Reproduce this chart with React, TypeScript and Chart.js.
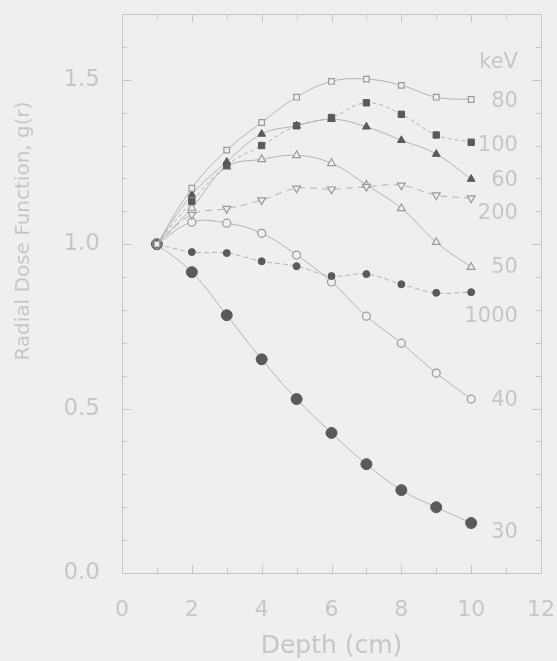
import React, { useEffect, useRef } from "react";
import { Chart, registerables } from "chart.js";

Chart.register(...registerables);

// Depth along the transverse axis (cm)
const depth = [1, 2, 3, 4, 5, 6, 7, 8, 9, 10];

// Radial dose function g(r) for each photon energy
const g80 = [1.0, 1.17, 1.286, 1.37, 1.447, 1.495, 1.502, 1.483, 1.447, 1.44];
const g100 = [1.0, 1.13, 1.24, 1.3, 1.36, 1.385, 1.43, 1.395, 1.332, 1.31];
const g60 = [1.0, 1.15, 1.25, 1.335, 1.36, 1.38, 1.357, 1.316, 1.274, 1.198];
const g200 = [1.0, 1.09, 1.108, 1.134, 1.17, 1.167, 1.175, 1.179, 1.149, 1.14];
const g50 = [1.0, 1.11, 1.235, 1.258, 1.27, 1.246, 1.18, 1.109, 1.006, 0.93];
const g1000 = [1.0, 0.976, 0.973, 0.948, 0.933, 0.903, 0.909, 0.878, 0.852, 0.854];
const g40 = [1.0, 1.067, 1.064, 1.033, 0.967, 0.885, 0.781, 0.699, 0.608, 0.529];
const g30 = [1.0, 0.915, 0.784, 0.65, 0.529, 0.426, 0.331, 0.252, 0.2, 0.152];

// Energy annotations at the right edge of the plot
const energyHeader = "keV";
const energyHeaderLevel = 1.553;
const energyLabels = ["80", "100", "60", "200", "50", "1000", "40", "30"];
const energyLabelLevels = [1.435, 1.3, 1.195, 1.094, 0.93, 0.781, 0.523, 0.122];
const energyLabelDepth = 11.34;

// Axis ticks
const xTickValues = [0, 2, 4, 6, 8, 10, 12];
const yTickValues = [0, 0.5, 1.0, 1.5];
const xMinorTicks = [1, 2, 3, 4, 5, 6, 7, 8, 9, 10, 11];
const yMinorTicks = [0.1, 0.2, 0.3, 0.4, 0.5, 0.6, 0.7, 0.8, 0.9, 1.0, 1.1, 1.2, 1.3, 1.4, 1.5, 1.6];

const yTitle = "Radial Dose Function, g(r)";
const xTitle = "Depth (cm)";

const BG = "#efefef";
const TEXT = "#c6c6c6";
const AXIS = "#c6c6c6";
const LINE = "#b2b2b2";
const DARK = "#5a5a5a";
const OPEN = "#9a9a9a";
const FONT = "'DejaVu Sans', sans-serif";

const toPoints = (vals: number[]) => depth.map((d, i) => ({ x: d, y: vals[i] }));

const zeroPadding = (s: any) => {
  s.paddingTop = 0;
  s.paddingBottom = 0;
  s.paddingLeft = 0;
  s.paddingRight = 0;
};

const frameAndLabels = {
  id: "frameAndLabels",
  afterDraw(chart: any) {
    const { ctx, chartArea } = chart;
    const { left, right, top, bottom } = chartArea;
    const xs = chart.scales.x;
    const ys = chart.scales.y;
    ctx.save();
    ctx.strokeStyle = AXIS;
    ctx.lineWidth = 1;
    ctx.strokeRect(left + 0.5, top + 0.5, right - left, bottom - top);
    ctx.beginPath();
    xMinorTicks.forEach((v) => {
      const px = Math.round(xs.getPixelForValue(v)) + 0.5;
      const len = v % 2 === 0 ? 8 : 5;
      ctx.moveTo(px, bottom);
      ctx.lineTo(px, bottom - len);
      ctx.moveTo(px, top);
      ctx.lineTo(px, top + len);
    });
    yMinorTicks.forEach((v) => {
      const py = Math.round(ys.getPixelForValue(v)) + 0.5;
      const len = Math.abs((v * 10) % 5) < 0.01 ? 9 : 5;
      ctx.moveTo(left, py);
      ctx.lineTo(left + len, py);
      ctx.moveTo(right, py);
      ctx.lineTo(right - len, py);
    });
    ctx.stroke();

    // energy labels
    ctx.fillStyle = TEXT;
    ctx.font = `21px ${FONT}`;
    ctx.textAlign = "right";
    ctx.textBaseline = "middle";
    const lx = xs.getPixelForValue(energyLabelDepth);
    ctx.fillText(energyHeader, lx, ys.getPixelForValue(energyHeaderLevel));
    energyLabels.forEach((t, i) => {
      ctx.fillText(t, lx, ys.getPixelForValue(energyLabelLevels[i]));
    });

    // vertical axis title
    ctx.font = `20px ${FONT}`;
    ctx.textAlign = "center";
    ctx.translate(24, ys.getPixelForValue(1.04));
    ctx.rotate(-Math.PI / 2);
    ctx.fillText(yTitle, 0, 0);
    ctx.restore();
  },
};

export default function App() {
  const ref = useRef<HTMLCanvasElement | null>(null);

  useEffect(() => {
    if (!ref.current) return;
    const line = { borderColor: LINE, borderWidth: 1, tension: 0.4, fill: false };
    const chart = new Chart(ref.current, {
      type: "line",
      data: {
        datasets: [
          {
            ...line,
            label: "80",
            data: toPoints(g80),
            pointStyle: "rect",
            pointRadius: 4,
            pointBackgroundColor: BG,
            pointBorderColor: OPEN,
            pointBorderWidth: 1.2,
          },
          {
            ...line,
            label: "100",
            data: toPoints(g100),
            borderDash: [4, 3],
            pointStyle: "rect",
            pointRadius: 4.5,
            pointBackgroundColor: DARK,
            pointBorderColor: DARK,
          },
          {
            ...line,
            label: "60",
            data: toPoints(g60),
            pointStyle: "triangle",
            pointRadius: 4.5,
            pointBackgroundColor: DARK,
            pointBorderColor: DARK,
          },
          {
            ...line,
            label: "200",
            data: toPoints(g200),
            borderDash: [7, 5],
            pointStyle: "triangle",
            pointRotation: 180,
            pointRadius: 4.5,
            pointBackgroundColor: BG,
            pointBorderColor: OPEN,
            pointBorderWidth: 1.2,
          },
          {
            ...line,
            label: "50",
            data: toPoints(g50),
            pointStyle: "triangle",
            pointRadius: 4.5,
            pointBackgroundColor: BG,
            pointBorderColor: OPEN,
            pointBorderWidth: 1.2,
          },
          {
            ...line,
            label: "1000",
            data: toPoints(g1000),
            borderDash: [5, 3],
            pointStyle: "circle",
            pointRadius: 3.5,
            pointBackgroundColor: DARK,
            pointBorderColor: DARK,
          },
          {
            ...line,
            label: "40",
            data: toPoints(g40),
            pointStyle: "circle",
            pointRadius: 4,
            pointBackgroundColor: BG,
            pointBorderColor: OPEN,
            pointBorderWidth: 1.2,
          },
          {
            ...line,
            label: "30",
            data: toPoints(g30),
            pointStyle: "circle",
            pointRadius: 5.5,
            pointBackgroundColor: DARK,
            pointBorderColor: DARK,
          },
        ],
      },
      options: {
        responsive: false,
        animation: false,
        layout: { padding: { top: 14, right: 16, bottom: 0, left: 0 }, autoPadding: false },
        plugins: { legend: { display: false }, tooltip: { enabled: false } },
        scales: {
          x: {
            type: "linear",
            min: 0,
            max: 12,
            grid: { display: false, drawTicks: false },
            border: { display: false },
            afterBuildTicks: (s: any) => {
              s.ticks = xTickValues.map((v) => ({ value: v }));
            },
            afterFit: (s: any) => {
              s.height = 88;
              zeroPadding(s);
            },
            ticks: {
              color: TEXT,
              padding: 24,
              font: { family: FONT, size: 22 },
              maxRotation: 0,
              callback: (v: any) => String(v),
            },
            title: {
              display: true,
              text: xTitle,
              color: TEXT,
              font: { family: FONT, size: 25 },
              padding: { top: 0, bottom: 0 },
            },
          },
          y: {
            type: "linear",
            min: 0,
            max: 1.7,
            grid: { display: false, drawTicks: false },
            border: { display: false },
            afterBuildTicks: (s: any) => {
              s.ticks = yTickValues.map((v) => ({ value: v }));
            },
            afterFit: (s: any) => {
              s.width = 122;
              zeroPadding(s);
            },
            ticks: {
              color: TEXT,
              padding: 22,
              font: { family: FONT, size: 23 },
              callback: (v: any) => Number(v).toFixed(1),
            },
          },
        },
      },
      plugins: [frameAndLabels],
    });
    return () => chart.destroy();
  }, []);

  return (
    <div style={{ position: "fixed", left: 0, top: 0, width: 557, height: 661, background: BG }}>
      <canvas ref={ref} width={557} height={661} style={{ display: "block" }} />
    </div>
  );
}
